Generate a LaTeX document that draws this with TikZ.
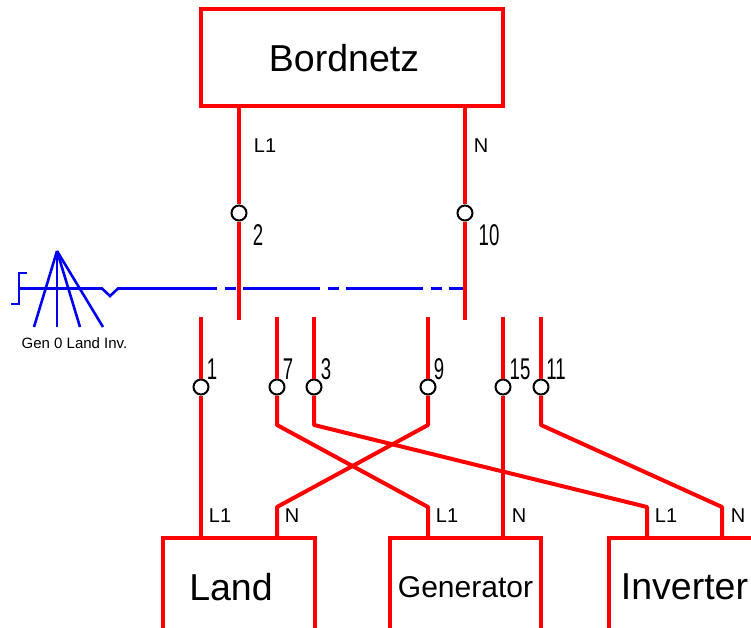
\documentclass[tikz,border=0pt]{standalone}
\usepackage{fontspec}
\setmainfont{Liberation Sans}
\definecolor{wirered}{RGB}{255, 0, 0}
\definecolor{linkblue}{RGB}{0, 0, 240}
\newcommand{\wirenum}[1]{\scalebox{.62}[1]{\fontsize{30}{32}\selectfont #1}}
\tikzset{
  wire/.style={line width=4pt, wirered},
  link/.style={line width=2.6pt, linkblue},
  unitbox/.style={draw, line width=4pt, wirered, minimum width=#1, text=black, inner sep=0pt},
  terminal/.style={circle, draw=black, line width=2pt, fill=white, minimum size=15pt, inner sep=0pt},
  wirelabel/.style={font=\fontsize{20}{22}\selectfont},
  numlabel/.style={inner sep=0pt},
  biglabel/.style={font=\fontsize{37.5}{40}\selectfont}
}
\begin{document}
\begin{tikzpicture}[x=1pt, y=-1pt]
\clip (0,0) rectangle (751,628);

% Main box and the lower boxes (cut off by the page edge)
\node[unitbox=302pt, minimum height=97pt] (bordnetz) at (352,57.5) {};
\node[unitbox=152pt, minimum height=110pt] (land) at (239,593) {};
\node[unitbox=151pt, minimum height=110pt] (generator) at (465.5,593) {};
\node[unitbox=152pt, minimum height=110pt] (inverter) at (685,593) {};
\node[biglabel] (bordnetztext) at (344,58) {Bordnetz};
\node[biglabel] (landtext) at (231,587) {Land};
\node[font=\fontsize{30}{32}\selectfont] (generatortext) at (465.5,587.5) {Generator};
\node[biglabel] (invertertext) at (684.5,587) {Inverter};

% Blue linkage
\coordinate (hookend) at (27,273);
\coordinate (hooktop) at (19,273);
\coordinate (hookmid) at (19,288.5);
\coordinate (hooklow) at (19,304);
\coordinate (hookfoot) at (11,304);
\coordinate (zigin) at (102,288.5);
\coordinate (zigtip) at (110,296);
\coordinate (zigout) at (118,288.5);
\coordinate (dashstart) at (140,288.5);
\coordinate (dashend) at (467,288.5);
\draw[link] (hookend) -- (hooktop) -- (hooklow) -- (hookfoot);
\draw[link] (hookmid) -- (zigin) -- (zigtip) -- (zigout) -- (dashstart);
\draw[link, dash pattern=on 77pt off 7.5pt on 11.5pt off 7pt] (dashstart) -- (dashend);

% Selector fan
\coordinate (fantop) at (57,251);
\foreach \name/\x in {gen/34, zero/57, shore/80, inv/103} {
  \coordinate (fan\name) at (\x,327);
  \draw[link] (fantop) -- (fan\name);
}
\node[font=\fontsize{15}{17}\selectfont] (fantext) at (74.5,343) {Gen 0 Land Inv.};

% Upper contacts
\node[terminal] (t2) at (239,213) {};
\node[terminal] (t10) at (465,213) {};
\coordinate (upL) at (239,106);
\coordinate (upN) at (465,106);
\coordinate (endL) at (239,320);
\coordinate (endN) at (465,320);
\draw[wire] (upL) -- (t2) -- (endL);
\draw[wire] (upN) -- (t10) -- (endN);
\node[wirelabel] (labL) at (265,146) {L1};
\node[wirelabel] (labN) at (481,146) {N};
\node[numlabel] (num2) at (258,235) {\wirenum{2}};
\node[numlabel] (num10) at (489,235) {\wirenum{10}};

% Lower contacts
\foreach \name/\x/\lx in {1/201/212, 7/277/288, 3/314/326, 9/428/439, 15/503/520, 11/541/556} {
  \node[terminal] (t\name) at (\x,387) {};
  \coordinate (top\name) at (\x,317);
  \draw[wire] (top\name) -- (t\name);
  \node[numlabel] (num\name) at (\lx,369) {\wirenum{\name}};
}

% Crossing wires
\coordinate (landL) at (201,538);
\coordinate (landN) at (277,538);
\coordinate (genL) at (428,538);
\coordinate (genN) at (503,538);
\coordinate (invL) at (647,538);
\coordinate (invN) at (722,538);
\draw[wire] (t1) -- (landL);
\draw[wire] (t15) -- (genN);
\draw[wire, line join=round] (t7) -- (277,425) -- (428,507) -- (genL);
\draw[wire, line join=round] (t3) -- (314,425) -- (647,507) -- (invL);
\draw[wire, line join=round] (t9) -- (428,425) -- (277,507) -- (landN);
\draw[wire, line join=round] (t11) -- (541,425) -- (722,507) -- (invN);

% Wire names at the boxes
\node[wirelabel] (landLtext) at (220,516) {L1};
\node[wirelabel] (landNtext) at (292,516) {N};
\node[wirelabel] (genLtext) at (447,516) {L1};
\node[wirelabel] (genNtext) at (519,516) {N};
\node[wirelabel] (invLtext) at (666,516) {L1};
\node[wirelabel] (invNtext) at (738,516) {N};
\end{tikzpicture}
\end{document}
